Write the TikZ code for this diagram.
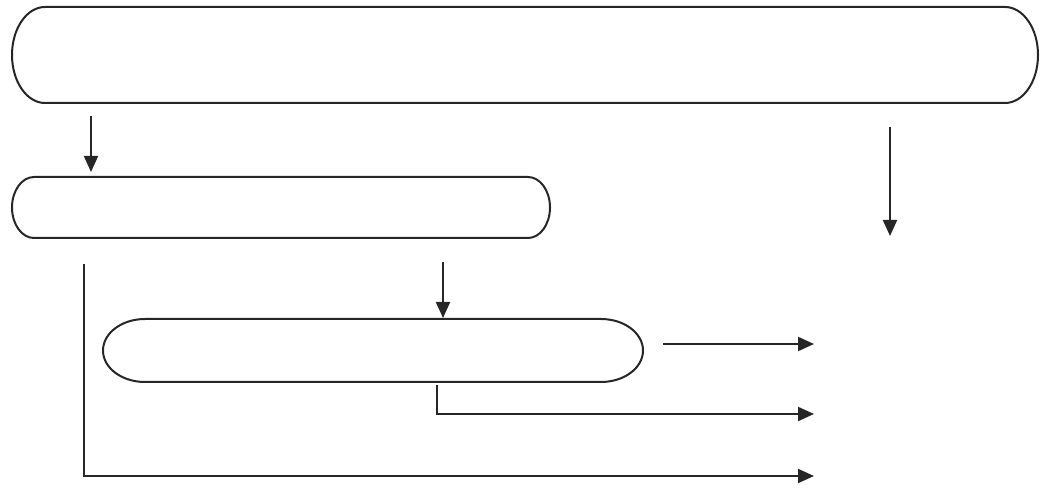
\documentclass[tikz,border=0pt]{standalone}
\usetikzlibrary{arrows.meta}
\begin{document}
\begin{tikzpicture}[x=1pt,y=1pt,
  line/.style={line width=2pt,color=black!85},
  conn/.style={line,-{Triangle[length=16pt,width=14pt]}},
  hold/.style={inner sep=0pt,outer sep=0pt,draw=none}]
\useasboundingbox (0,0) rectangle (1043,487);
% invisible holder nodes for the three capsules
\node[hold,minimum width=1026pt,minimum height=96pt] (b1) at (525,432) {};
\node[hold,minimum width=538pt,minimum height=61pt] (b2) at (281,279.5) {};
\node[hold,minimum width=540pt,minimum height=63pt] (b3) at (373,136.5) {};
% capsule outlines with elliptical ends
\draw[line] ([xshift=33pt]b1.north west) -- ([xshift=-33pt]b1.north east)
  arc[start angle=90,end angle=-90,x radius=33pt,y radius=48pt]
  -- ([xshift=33pt]b1.south west)
  arc[start angle=270,end angle=90,x radius=33pt,y radius=48pt] -- cycle;
\draw[line] ([xshift=22pt]b2.north west) -- ([xshift=-22pt]b2.north east)
  arc[start angle=90,end angle=-90,x radius=22pt,y radius=30.5pt]
  -- ([xshift=22pt]b2.south west)
  arc[start angle=270,end angle=90,x radius=22pt,y radius=30.5pt] -- cycle;
\draw[line] ([xshift=42pt]b3.north west) -- ([xshift=-42pt]b3.north east)
  arc[start angle=90,end angle=-90,x radius=42pt,y radius=31.5pt]
  -- ([xshift=42pt]b3.south west)
  arc[start angle=270,end angle=90,x radius=42pt,y radius=31.5pt] -- cycle;
% connector end points
\coordinate (a1s) at (91,371);  \coordinate (a1e) at (91,315);
\coordinate (a2s) at (890,360); \coordinate (a2e) at (890,251);
\coordinate (a3s) at (443,225); \coordinate (a3e) at (443,169);
\coordinate (a4s) at (663,143); \coordinate (a4e) at (814,143);
\coordinate (a5s) at (437,102); \coordinate (a5c) at (437,73); \coordinate (a5e) at (814,73);
\coordinate (a6s) at (84,223);  \coordinate (a6c) at (84,11);  \coordinate (a6e) at (814,11);
\draw[conn] (a1s) -- (a1e);
\draw[conn] (a2s) -- (a2e);
\draw[conn] (a3s) -- (a3e);
\draw[conn] (a4s) -- (a4e);
\draw[conn] (a5s) -- (a5c) -- (a5e);
\draw[conn] (a6s) -- (a6c) -- (a6e);
\end{tikzpicture}
\end{document}
